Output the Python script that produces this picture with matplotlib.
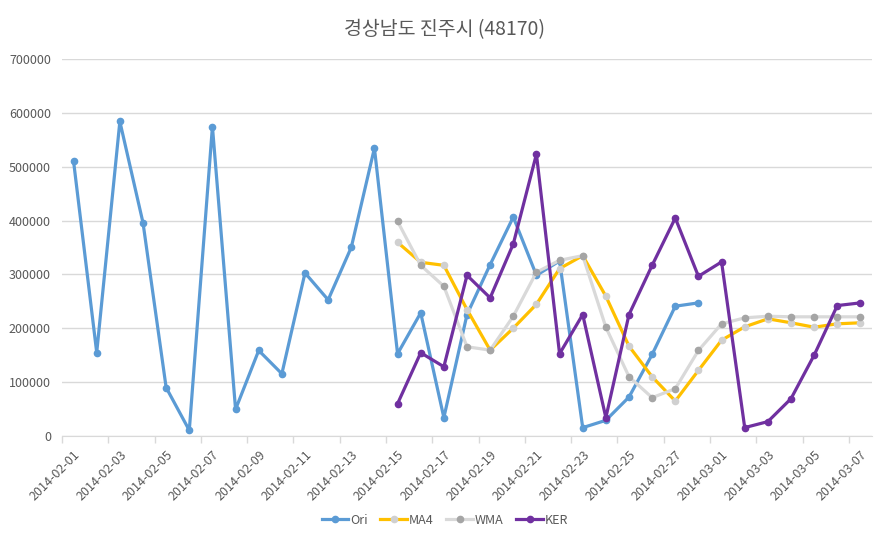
import numpy as np
import pandas as pd
import matplotlib

matplotlib.use("Agg")
import matplotlib.pyplot as plt

plt.rcParams["font.family"] = ["Noto Sans CJK KR", "DejaVu Sans"]

# ---------------------------------------------------------------------------
# data

dates = pd.date_range("2014-02-01", "2014-03-07", freq="D").strftime("%Y-%m-%d").tolist()
nan = np.nan

ori = [510000, 155000, 584000, 396000, 90000, 10500, 574500, 49500, 158800, 115600,
       302800, 252800, 350300, 534500, 152700, 228700, 34100, 225500, 318200, 406600,
       298400, 325000, 15500, 29100, 72300, 151400, 241000, 247200,
       nan, nan, nan, nan, nan, nan, nan]

ma4 = [nan] * 14 + [359600, 322500, 316900, 234800, 159400, 200200, 244600, 310800,
                    334900, 259500, 166800, 110000, 64900, 121800, 177900, 202700,
                    217600, 210200, 202000, 208300, 210200]

wma = [nan] * 14 + [398500, 316900, 278000, 165700, 159400, 222400, 304000, 326200,
                    334900, 202000, 110100, 71200, 87800, 158800, 208300, 219400,
                    222400, 221300, 221300, 221300, 221300]

ker = [nan] * 14 + [60000, 154600, 128600, 298400, 256500, 356600, 523400, 152700,
                    225500, 34100, 225500, 316900, 404800, 296500, 323200, 15600,
                    26700, 69300, 150100, 242200, 247200]

title = "경상남도 진주시 (48170)"

# ---------------------------------------------------------------------------
TEXT = "#595959"
GRID = "#D9D9D9"

fig = plt.figure(figsize=(8.9, 5.42), dpi=100)
ax = fig.add_axes([62 / 890, (542 - 436) / 542, 810 / 890, 377 / 542])

x = np.arange(len(dates))
series = [
    ("Ori", ori, "#5B9BD5", "#5B9BD5"),
    ("MA4", ma4, "#FFC000", "#D0D0D0"),
    ("WMA", wma, "#D9D9D9", "#A5A5A5"),
    ("KER", ker, "#7030A0", "#7030A0"),
]
for name, vals, lc, mc in series:
    ax.plot(x, vals, color=lc, lw=2.3, marker="o", ms=4.5,
            mfc=mc, mec=mc, label=name, solid_joinstyle="round")

ax.set_xlim(-0.5, len(dates) - 0.5)
ax.set_ylim(0, 700000)
ax.set_yticks(np.arange(0, 700001, 100000))
ax.yaxis.grid(True, color=GRID, lw=1)
ax.set_axisbelow(True)

# labels at category centres, tick marks at category boundaries
ax.set_xticks(x[::2])
ax.set_xticklabels(dates[::2], rotation=45, ha="right", va="top",
                   rotation_mode="anchor")
ax.set_xticks(np.arange(-0.5, len(dates), 2), minor=True)
ax.tick_params(axis="x", which="major", length=0, pad=9, labelsize=9,
               labelcolor=TEXT)
ax.tick_params(axis="x", which="minor", length=5, color=GRID, width=1,
               direction="out")
ax.tick_params(axis="y", length=0, pad=8, labelsize=9, labelcolor=TEXT)

for side in ("left", "right", "top"):
    ax.spines[side].set_visible(False)
ax.spines["bottom"].set_color(GRID)

fig.suptitle(title, x=0.5, y=0.965, fontsize=14, color=TEXT)

fig.legend(loc="center", bbox_to_anchor=(0.5, (542 - 520) / 542),
           ncol=4, frameon=False, fontsize=9, labelcolor=TEXT,
           handlelength=2.1, handletextpad=0.2, columnspacing=1.0)

fig.savefig("out.png", dpi=100)
